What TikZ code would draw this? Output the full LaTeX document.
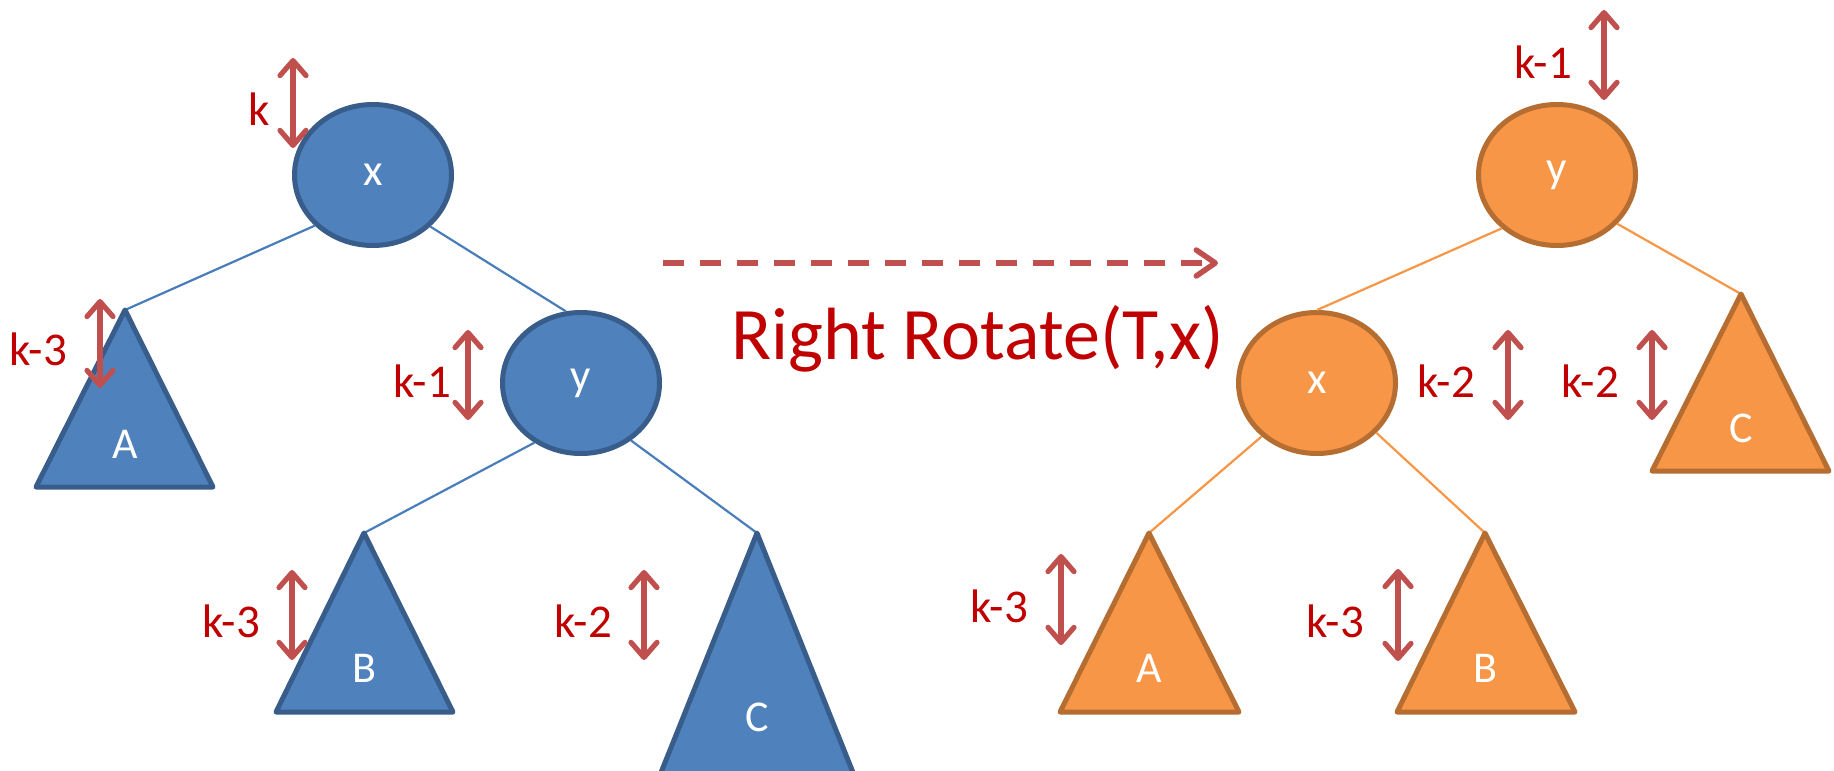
\documentclass[tikz,border=0pt]{standalone}
\usepackage{fontspec}
\setmainfont{Carlito}
\usetikzlibrary{arrows.meta,shapes.geometric}
\definecolor{bfill}{HTML}{4F81BD}
\definecolor{bline}{HTML}{385D8A}
\definecolor{blink}{HTML}{4A7EBB}
\definecolor{ofill}{HTML}{F79646}
\definecolor{oline}{HTML}{B66D31}
\definecolor{olink}{HTML}{F79646}
\definecolor{ared}{HTML}{C0504D}
\definecolor{kred}{HTML}{C00000}
\tikzset{
  hb/.tip={Straight Barb[length=15pt,width=26pt,round]},
  db/.tip={Straight Barb[length=19pt,width=26pt,round]},
  bnode/.style={ellipse, draw=bline, fill=bfill, line width=5pt, minimum width=157pt, minimum height=141pt, inner sep=0pt, text=white, font=\fontsize{45}{54}\selectfont},
  onode/.style={ellipse, draw=oline, fill=ofill, line width=5pt, minimum width=157pt, minimum height=141pt, inner sep=0pt, text=white, font=\fontsize{45}{54}\selectfont},
  btri/.style={draw=bline, fill=bfill, line width=5pt, line join=round},
  otri/.style={draw=oline, fill=ofill, line width=5pt, line join=round},
  tlabel/.style={text=white, inner sep=0pt, font=\fontsize{44}{52}\selectfont},
  hlabel/.style={text=kred, inner sep=0pt, font=\fontsize{47}{55}\selectfont},
  harrow/.style={draw=ared, line width=5.2pt, arrows={hb-hb}},
  blinkstyle/.style={draw=blink, line width=2.2pt},
  olinkstyle/.style={draw=olink, line width=2.2pt},
  rotarrow/.style={draw=ared, line width=5.5pt, dash pattern=on 21pt off 16pt, arrows={-db}}
}
\begin{document}
\begin{tikzpicture}[x=1pt,y=-1pt]
\clip (0,0) rectangle (1834,771);
\fill[white] (0,0) rectangle (1834,771);

% ---------- left tree ----------
\node[bnode] (x1) at (373,175) {x};
\node[bnode] (y1) at (581,383) {y};
\coordinate (a1) at (125,310);
\coordinate (b1) at (364,533);
\coordinate (c1) at (757,533);

\draw[blinkstyle] (x1.221.9) -- (a1);
\draw[blinkstyle] (x1.318.6) -- (y1.102);
\draw[blinkstyle] (y1.232) -- (b1);
\draw[blinkstyle] (y1.311.4) -- (c1);

\draw[btri] (a1) -- (36,487) -- (213,487) -- cycle;
\draw[btri] (b1) -- (276,712) -- (453,712) -- cycle;
\draw[btri] (c1) -- (650,800) -- (864,800) -- cycle;
\node[tlabel] (la1) at (125,444) {A};
\node[tlabel] (lb1) at (364,668) {B};
\node[tlabel] (lc1) at (757,717) {C};

\coordinate (h1t) at (293,58);  \coordinate (h1b) at (293,148);
\coordinate (h2t) at (100,299); \coordinate (h2b) at (100,388);
\coordinate (h3t) at (468,330); \coordinate (h3b) at (468,420);
\coordinate (h4t) at (292,570); \coordinate (h4b) at (292,660);
\coordinate (h5t) at (644,570); \coordinate (h5b) at (644,660);
\draw[harrow] (h1t) -- (h1b);
\draw[harrow] (h2t) -- (h2b);
\draw[harrow] (h3t) -- (h3b);
\draw[harrow] (h4t) -- (h4b);
\draw[harrow] (h5t) -- (h5b);
\node[hlabel] (k1) at (259,109) {k};
\node[hlabel] (k2) at (38,349) {k-3};
\node[hlabel] (k3) at (422,381) {k-1};
\node[hlabel] (k4) at (231,621) {k-3};
\node[hlabel] (k5) at (583,621) {k-2};

% ---------- rotation arrow ----------
\coordinate (rs) at (663,263);
\coordinate (re) at (1218,263);
\draw[rotarrow] (rs) -- (re);
\node[anchor=base west, text=kred, inner sep=0pt, font=\fontsize{74}{82}\selectfont] (title) at (731,359) {Right Rotate(T,x)};

% ---------- right tree ----------
\node[onode] (y2) at (1557,175) {y};
\node[onode] (x2) at (1317,383) {x};
\coordinate (a2) at (1149,533);
\coordinate (b2) at (1485,533);
\coordinate (c2) at (1741,294);

\draw[olinkstyle] (y2.224.5) -- (x2.90);
\draw[olinkstyle] (y2.321.6) -- (c2);
\draw[olinkstyle] (x2.224.5) -- (a2);
\draw[olinkstyle] (x2.320.2) -- (b2);

\draw[otri] (a2) -- (1060,712) -- (1239,712) -- cycle;
\draw[otri] (b2) -- (1397,712) -- (1575,712) -- cycle;
\draw[otri] (c2) -- (1652,471) -- (1829,471) -- cycle;
\node[tlabel] (la2) at (1149,668) {A};
\node[tlabel] (lb2) at (1485,668) {B};
\node[tlabel] (lc2) at (1741,428) {C};

\coordinate (g1t) at (1604,10);  \coordinate (g1b) at (1604,100);
\coordinate (g2t) at (1508,330); \coordinate (g2b) at (1508,420);
\coordinate (g3t) at (1652,330); \coordinate (g3b) at (1652,420);
\coordinate (g4t) at (1061,554); \coordinate (g4b) at (1061,645);
\coordinate (g5t) at (1398,569); \coordinate (g5b) at (1398,661);
\draw[harrow] (g1t) -- (g1b);
\draw[harrow] (g2t) -- (g2b);
\draw[harrow] (g3t) -- (g3b);
\draw[harrow] (g4t) -- (g4b);
\draw[harrow] (g5t) -- (g5b);
\node[hlabel] (m1) at (1543,62) {k-1};
\node[hlabel] (m2) at (1446,381) {k-2};
\node[hlabel] (m3) at (1590,381) {k-2};
\node[hlabel] (m4) at (999,606) {k-3};
\node[hlabel] (m5) at (1335,621) {k-3};
\end{tikzpicture}
\end{document}
